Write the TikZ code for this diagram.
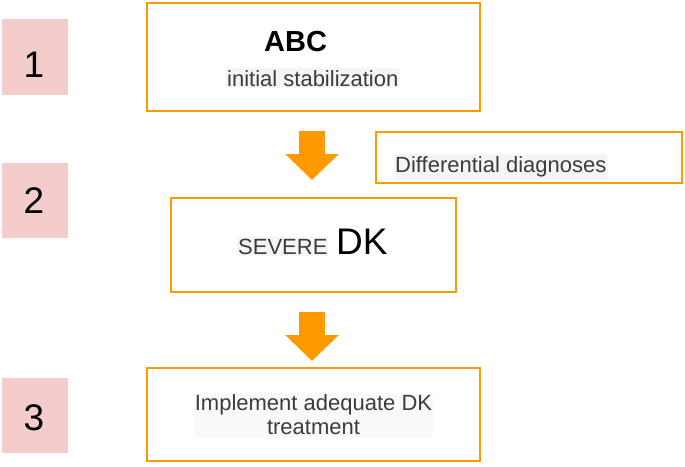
\documentclass[tikz,border=0pt]{standalone}
\usepackage{fontspec}
\setmainfont{Liberation Sans}
\usetikzlibrary{arrows.meta}
\definecolor{orng}{HTML}{FF9900}
\definecolor{pinkc}{HTML}{F4CCCC}
\definecolor{txtgray}{HTML}{3C3C3C}
\definecolor{hl}{HTML}{F5F5F5}
\definecolor{hlfaint}{HTML}{F9F9F9}
\begin{document}
\begin{tikzpicture}[x=1pt,y=-1pt,
  box/.style={draw=orng,line width=2pt,inner sep=0pt},
  pinkbox/.style={fill=pinkc,inner sep=0pt,minimum width=66pt},
  numtxt/.style={font=\fontsize{37}{40}\selectfont,anchor=base,inner sep=0pt},
  hltxt/.style={fill=hl,inner xsep=1pt,inner ysep=2pt,text=txtgray},
  bigarrow/.style={orng,line width=26pt,-{Triangle[width=52pt,length=26pt]}}]
\useasboundingbox (0,0) rectangle (685,466);
% step markers
\node[pinkbox,minimum height=76pt] (p1) at (35,57) {};
\node[pinkbox,minimum height=75pt] (p2) at (35,200.5) {};
\node[pinkbox,minimum height=75pt] (p3) at (35,415.5) {};
\node[numtxt] (n1) at (34,77) {1};
\node[numtxt] (n2) at (34,213) {2};
\node[numtxt] (n3) at (34,430) {3};
% boxes
\node[box,minimum width=333pt,minimum height=108pt] (b1) at (313.5,57) {};
\node[box,minimum width=306pt,minimum height=51pt] (bd) at (529,157.5) {};
\node[box,minimum width=285pt,minimum height=94pt] (b2) at (313.5,245) {};
\node[box,minimum width=333pt,minimum height=93pt] (b3) at (313.5,414.5) {};
% texts
\node[anchor=base west,inner sep=0pt,font=\bfseries\fontsize{29}{32}\selectfont] (abc) at (264,51) {ABC};
\node[hltxt,anchor=base west,font=\fontsize{22}{24}\selectfont] (init) at (226,86) {initial stabilization};
\node[hltxt,anchor=base west,font=\fontsize{22}{24}\selectfont] (diff) at (394,172) {Differential diagnoses};
\node[hltxt,anchor=base west,font=\fontsize{22}{24}\selectfont] (sev) at (237,254) {SEVERE};
\node[anchor=base west,inner sep=0pt,font=\fontsize{37}{40}\selectfont] (dk) at (336,254) {DK};
\node[hltxt,fill=hlfaint,align=center,font=\fontsize{22}{24}\selectfont] (impl) at (313.5,415) {Implement adequate DK\\treatment};
% arrows
\coordinate (a1s) at (312,131);
\coordinate (a1e) at (312,180);
\coordinate (a2s) at (312,312);
\coordinate (a2e) at (312,361);
\draw[bigarrow] (a1s) -- (a1e);
\draw[bigarrow] (a2s) -- (a2e);
\end{tikzpicture}
\end{document}
